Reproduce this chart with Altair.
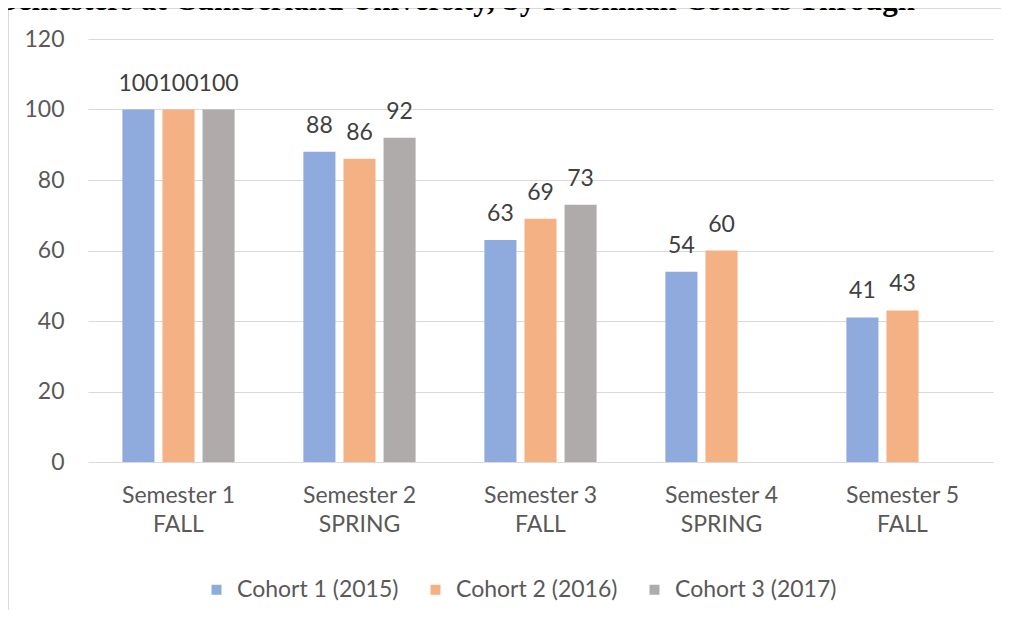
import altair as alt
import pandas as pd

semesters = ["Semester 1|FALL", "Semester 2|SPRING", "Semester 3|FALL", "Semester 4|SPRING", "Semester 5|FALL"]
cohorts = ["Cohort 1 (2015)", "Cohort 2 (2016)", "Cohort 3 (2017)"]
cohort1 = [100, 88, 63, 54, 41]
cohort2 = [100, 86, 69, 60, 43]
cohort3 = [100, 92, 73, None, None]
colors = ["#8faadc", "#f4b183", "#afabab"]
y_ticks = [0, 20, 40, 60, 80, 100, 120]
title_text = "Semesters at Cumberland University, by Freshman Cohorts Through"

rows = []
for name, vals in zip(cohorts, [cohort1, cohort2, cohort3]):
    for s, v in zip(semesters, vals):
        if v is not None:
            rows.append({"semester": s, "cohort": name, "value": v})
df = pd.DataFrame(rows)

FONT = "Lato"
FS = 23

base = alt.Chart(df).encode(
    x=alt.X(
        "semester:N",
        sort=semesters,
        scale=alt.Scale(paddingInner=0.38, paddingOuter=0.19),
        axis=alt.Axis(
            title=None,
            labelExpr="split(datum.label, '|')",
            labelAngle=0,
            ticks=False,
            domain=False,
            labelPadding=22,
            labelFontSize=FS,
            labelColor="#595959",
            labelLineHeight=29,
            labelFont=FONT,
        ),
    ),
    xOffset=alt.XOffset("cohort:N", sort=cohorts, scale=alt.Scale(domain=cohorts, paddingInner=0.2, paddingOuter=0)),
    y=alt.Y(
        "value:Q",
        scale=alt.Scale(domain=[0, 120]),
        axis=alt.Axis(
            values=y_ticks,
            title=None,
            domain=False,
            ticks=False,
            labelPadding=24,
            labelFontSize=FS,
            labelColor="#595959",
            labelFont=FONT,
            gridColor="#d9d9d9",
            gridWidth=1,
        ),
    ),
)

bars = base.mark_bar().encode(
    color=alt.Color(
        "cohort:N",
        scale=alt.Scale(domain=cohorts, range=colors),
        legend=alt.Legend(
            title=None,
            orient="none",
            legendX=117,
            legendY=539,
            direction="horizontal",
            symbolType="square",
            symbolSize=100,
            symbolStrokeWidth=0,
            labelFontSize=FS,
            labelFont=FONT,
            labelColor="#595959",
            labelOffset=9,
            labelLimit=300,
            columnPadding=25,
            padding=0,
        ),
    )
)

labels = base.mark_text(baseline="alphabetic", dy=-19, fontSize=FS, color="#404040", font=FONT).encode(
    text="value:Q"
)

title = alt.Chart(pd.DataFrame({"t": [title_text]})).mark_text(
    align="right", baseline="alphabetic", font="Liberation Serif", fontWeight="bold", fontSize=31, color="#000000"
).encode(text="t:N", x=alt.value(827), y=alt.value(-29))

border = alt.Chart(pd.DataFrame({"a": [0]})).mark_rect(
    fill="transparent", stroke="#d9d9d9", strokeWidth=1
).encode(x=alt.value(-79.5), x2=alt.value(1300), y=alt.value(-30.5), y2=alt.value(900))

chart = alt.layer(border, bars, labels, title).properties(
    width=905,
    height=423,
    autosize=alt.AutoSizeParams(type="none"),
    padding={"left": 80, "top": 31, "right": 8, "bottom": 148},
    background="white",
).configure_view(stroke=None)

chart.save("out.html", embed_options={"renderer": "svg", "actions": False})
